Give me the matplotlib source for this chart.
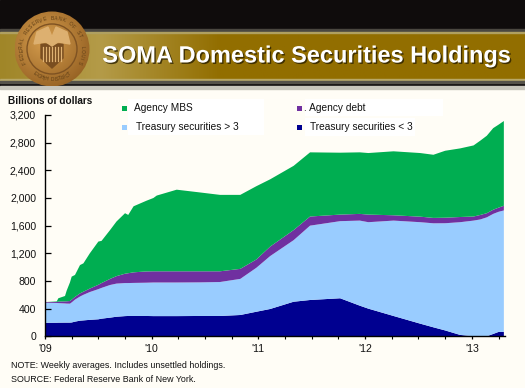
import numpy as np
import matplotlib
matplotlib.use('Agg')
import matplotlib.pyplot as plt
import matplotlib.patheffects as pe
from matplotlib.patches import Circle, Rectangle, Polygon

plt.rcParams['font.family'] = ['Liberation Sans', 'DejaVu Sans']

# years since Jan 2009
years = [0.00, 0.11, 0.125, 0.1875, 0.203, 0.234, 0.25, 0.281, 0.328, 0.36, 0.42, 0.50, 0.53, 0.61,
         0.67, 0.75, 0.78, 0.83, 0.95, 1.016, 1.047, 1.234, 1.453, 1.64, 1.83, 1.98, 2.11, 2.33,
         2.484, 2.766, 2.95, 3.03, 3.266, 3.516, 3.64, 3.75, 3.89, 4.016, 4.08, 4.14, 4.20, 4.25, 4.30]

# billions of dollars
treasury_short = [195, 196, 197, 198, 198, 198, 200, 212, 226, 230, 238, 246, 255, 270,
                  283, 292, 294, 294, 294, 292, 292, 292, 294, 294, 308, 355, 395, 500,
                  525, 550, 443, 400, 294, 183, 130, 85, 20, 0, 0, 0, 34, 63, 63]
treasury_long = [290, 286, 283, 277, 275, 274, 290, 318, 349, 370, 402, 436, 445, 472,
                 479, 478, 476, 478, 481, 486, 486, 486, 486, 491, 522, 635, 765, 890,
                 1075, 1115, 1230, 1250, 1379, 1467, 1504, 1550, 1630, 1673, 1690, 1720, 1736, 1737, 1757]
agency_debt = [10, 14, 22, 30, 33, 38, 40, 40, 45, 45, 50, 63, 70, 88,
               108, 135, 142, 153, 163, 162, 162, 162, 160, 155, 145, 120, 137, 146,
               132, 95, 97, 110, 77, 80, 78, 80, 75, 59, 65, 60, 60, 60, 68]
agency_mbs = [0, 8, 48, 78, 154, 270, 333, 317, 410, 410, 510, 625, 610, 707,
              790, 875, 843, 955, 1022, 1060, 1095, 1180, 1140, 1105, 1070, 1060, 973, 929,
              928, 895, 890, 890, 925, 920, 913, 968, 992, 1028, 1075, 1120, 1180, 1200, 1225]

y_ticks = [0, 400, 800, 1200, 1600, 2000, 2400, 2800, 3200]
x_labels = ["'09", "'10", "'11", "'12", "'13"]
legend_labels = ['Agency MBS', '. Agency debt', 'Treasury securities > 3', 'Treasury securities < 3']

bg = '#FFFDF6'
col_mbs = '#00AE51'
col_debt = '#7030A0'
col_long = '#99CCFF'
col_short = '#000090'

W, H = 525, 388
fig = plt.figure(figsize=(W / 100, H / 100), dpi=100, facecolor=bg)

# page overlay in pixel coordinates
page = fig.add_axes([0, 0, 1, 1], zorder=0)
page.axis('off')

# black header with the gold band
page.add_patch(Rectangle((0, 0), W, 86, color='#0F0C0C', zorder=1))
page.add_patch(Rectangle((0, 86), W, 3, color='#C8C6BC', zorder=1))
px = np.linspace(0, W, 256)
gold = np.stack([np.interp(px, [0, 100, 220, W], [a, b, c, c]) for a, b, c in
                 [(160, 180, 146), (134, 155, 110), (40, 72, 0)]], axis=-1)[None, ...] / 255
page.imshow(gold, extent=(0, W, 79, 33), aspect='auto', zorder=2)
page.add_patch(Rectangle((0, 29), W, 2, color='#4A4740', zorder=3))
page.add_patch(Rectangle((0, 32), W, 1, color='#B0A060', zorder=3))
page.add_patch(Rectangle((0, 79), W, 1, color='#B8A868', zorder=3))
page.add_patch(Rectangle((0, 81), W, 2, color='#55524A', zorder=3))

# seal, radial shaded disc
cx, cy, r = 52, 49, 37.5
gx, gy = np.meshgrid(np.linspace(-1, 1, 150), np.linspace(-1, 1, 150))
shade = np.clip(np.hypot(gx + 0.2, gy + 0.2) / 1.5, 0, 1)[..., None]
disc = np.array([214, 158, 78]) / 255 * (1 - shade) + np.array([142, 90, 30]) / 255 * shade
im = page.imshow(disc, extent=(cx - r, cx + r, cy + r, cy - r), aspect='auto', zorder=4)
im.set_clip_path(Circle((cx, cy), r, transform=page.transData))
page.add_patch(Circle((cx, cy), 25, fc='none', ec='#7E5222', lw=1.0, zorder=6))
page.add_patch(Polygon([(41, 44), (63, 44), (63, 58), (52, 68), (41, 58)], color='#7A4E20', zorder=7))
for sx in range(43, 63, 3):
    page.plot([sx, sx], [47, 61], color='#E0B272', lw=0.9, zorder=8)
page.add_patch(Polygon([(34, 44), (37, 32), (48, 27), (52, 37), (56, 27), (67, 32), (70, 44), (58, 42), (52, 46), (46, 42)],
                       color='#DDB070', zorder=7))

# ring lettering
seal_top = 'FEDERAL RESERVE BANK OF ST. LOUIS'
for i, ch in enumerate(seal_top):
    a = np.deg2rad(-205 + 230 * i / (len(seal_top) - 1))
    page.text(cx + 30.5 * np.cos(a), cy + 30.5 * np.sin(a), ch, fontsize=3.6, color='#5E3E16',
              rotation=-np.rad2deg(a) - 90, ha='center', va='center', zorder=8)
seal_bottom = 'EIGHTH DISTRICT'
for i, ch in enumerate(seal_bottom):
    a = np.deg2rad(125 - 70 * i / (len(seal_bottom) - 1))
    page.text(cx + 30.5 * np.cos(a), cy + 30.5 * np.sin(a), ch, fontsize=3.4, color='#5E3E16',
              rotation=90 - np.rad2deg(a), ha='center', va='center', zorder=8)

page.set_xlim(0, W)
page.set_ylim(H, 0)

page.text(306, 56, 'SOMA Domestic Securities Holdings', color='white', fontsize=16.95, fontweight='bold',
          ha='center', va='center', zorder=9,
          path_effects=[pe.withSimplePatchShadow(offset=(1, -1), shadow_rgbFace='#2A2000', alpha=0.8)])

# chart
ax = fig.add_axes([45 / W, (H - 336.3) / H, 459.5 / W, 221.3 / H], zorder=2)
ax.patch.set_alpha(0)
ax.stackplot(years, treasury_short, treasury_long, agency_debt, agency_mbs,
             colors=[col_short, col_long, col_debt, col_mbs], linewidth=0)
ax.set_xlim(0, 4.306)
ax.set_ylim(0, 3200)
for side in ['top', 'right']:
    ax.spines[side].set_visible(False)
for side in ['left', 'bottom']:
    ax.spines[side].set_linewidth(1.0)
ax.set_yticks(y_ticks)
ax.set_yticklabels([f'{v:,}' for v in y_ticks], fontsize=7.6, color='#111111')
ax.tick_params(axis='y', direction='in', length=4.5, width=0.9, pad=6.4)
ax.set_xticks(range(len(x_labels)))
ax.set_xticklabels(x_labels, fontsize=7.6, color='#111111')
ax.set_xticks(np.arange(0, 4.3, 0.25), minor=True)
ax.tick_params(axis='x', which='major', direction='out', length=2.5, width=0.9, pad=3)
ax.tick_params(axis='x', which='minor', direction='out', length=2, width=0.8)

# legend drawn by hand, the white text boxes sit over the background
top = fig.add_axes([0, 0, 1, 1], zorder=3)
top.set_xlim(0, W)
top.set_ylim(H, 0)
top.axis('off')
top.add_patch(Rectangle((128, 99), 136, 36, color='white', lw=0))
top.add_patch(Rectangle((305, 99), 138, 17, color='white', lw=0))
top.add_patch(Rectangle((305, 118), 110, 18, color='white', lw=0))
entries = [(124, 108, col_mbs, 134, legend_labels[0]), (299, 108, col_debt, 304, legend_labels[1]),
           (124, 127, col_long, 135.5, legend_labels[2]), (299, 127, col_short, 310.5, legend_labels[3])]
for mx, my, c, tx, label in entries:
    top.add_patch(Rectangle((mx - 2.5, my - 2.5), 5, 5, color=c, lw=0))
    top.text(tx, my, label, fontsize=7.3, va='center', ha='left', color='#111111')

top.text(8, 101.5, 'Billions of dollars', fontsize=7.2, fontweight='bold', va='center', ha='left', color='#111111')
top.text(11, 365.5, 'NOTE: Weekly averages. Includes unsettled holdings.', fontsize=6.4, va='center', ha='left', color='#111111')
top.text(11, 379, 'SOURCE: Federal Reserve Bank of New York.', fontsize=6.4, va='center', ha='left', color='#111111')

fig.savefig('out.png', dpi=100, facecolor=bg)
